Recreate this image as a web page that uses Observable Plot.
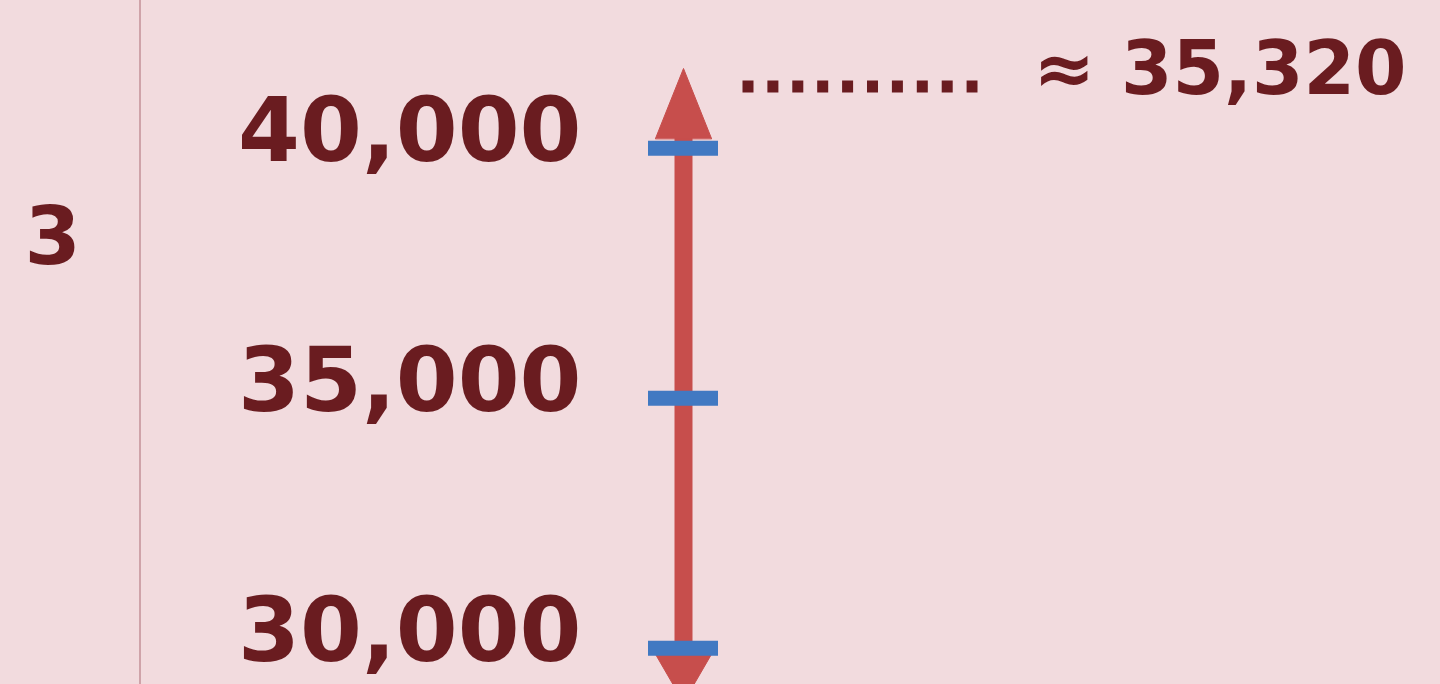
<!DOCTYPE html>
<html>
<head>
<meta charset="utf-8">
<script src="https://cdn.jsdelivr.net/npm/d3@7"></script>
<script src="https://cdn.jsdelivr.net/npm/@observablehq/plot@0.6"></script>
<style>
  html, body { margin: 0; padding: 0; background: #f2dbde; overflow: hidden; }
  #wrap { position: relative; width: 1440px; height: 684px; overflow: hidden; background: #f2dbde; }
  #divider { position: absolute; left: 139px; top: 0; width: 2px; height: 684px; background: #cfa3a9; }
  #chart { position: absolute; left: 0; top: 0; }
</style>
</head>
<body>
<div id="wrap"><div id="chart"></div><div id="divider"></div></div>
<script>
// ---- data ----
const rowLabel = ["3"];
const tickValues = [30000, 35000, 40000];
const tickLabels = ["30,000", "35,000", "40,000"];
const estimate = [35320];
const arrowEnds = [29914, 40194]; // axis arrow shaft ends (bases of the heads)

// ---- style ----
const maroon = "#6a1c20";
const red = "#c74e4c";
const blue = "#4179c2";
const font = "DejaVu Sans";

const triangle = {
  draw(context, l, r) {
    context.moveTo(-r, 0);
    context.lineTo(0, -l);
    context.lineTo(r, 0);
    context.closePath();
  }
};
const straight = {
  draw(context, l) {
    context.moveTo(0, 0);
    context.lineTo(0, -l);
  }
};

const chart = Plot.plot({
  width: 1440,
  height: 684,
  marginLeft: 648,
  marginRight: 722,
  marginTop: 0,
  marginBottom: 0,
  style: { background: "transparent", fontFamily: font, overflow: "hidden" },
  x: { domain: [-1, 1], axis: null },
  y: { type: "linear", domain: [30000, 40000], range: [647.7, 147.7], axis: null },
  marks: [
    // row label
    Plot.text(rowLabel, {
      text: d => d, frameAnchor: "top-left", textAnchor: "start", lineAnchor: "bottom",
      dx: -624, dy: 263, fontSize: 81, fontWeight: "bold", fill: maroon
    }),
    // axis shaft
    Plot.ruleX([0], { x: 0, y1: () => arrowEnds[0], y2: () => arrowEnds[1], stroke: red, strokeWidth: 18 }),
    // arrow heads
    Plot.vector([arrowEnds[1]], {
      x: 0, y: d => d, length: 70, r: 28, rotate: 0, anchor: "start",
      shape: triangle, fill: red, stroke: red, strokeWidth: 1
    }),
    Plot.vector([arrowEnds[0]], {
      x: 0, y: d => d, length: 50, r: 29, rotate: 180, anchor: "start",
      shape: triangle, fill: red, stroke: red, strokeWidth: 1
    }),
    // blue tick marks
    Plot.tickY(tickValues, { y: d => d, stroke: blue, strokeWidth: 15 }),
    // tick labels
    Plot.text(tickValues, {
      y: d => d, text: (d, i) => tickLabels[i], frameAnchor: "left", textAnchor: "end",
      lineAnchor: "bottom", dx: -67, dy: 13, fontSize: 89, fontWeight: "bold", fill: maroon
    }),
    // dotted leader
    Plot.vector([tickValues[2]], {
      x: 0, y: d => d, length: 235, rotate: 90, anchor: "start", shape: straight,
      dx: 59, dy: -61.7, stroke: maroon, strokeWidth: 12, strokeDasharray: "11 13.9",
      strokeLinecap: "butt", fill: "none"
    }),
    // estimate annotation
    Plot.text(estimate, {
      text: d => "≈ " + d3.format(",")(d), frameAnchor: "top-right", textAnchor: "end",
      lineAnchor: "bottom", dx: 688, dy: 93, fontSize: 74, fontWeight: "bold", fill: maroon
    })
  ]
});
document.getElementById("chart").appendChild(chart);
</script>
</body>
</html>
